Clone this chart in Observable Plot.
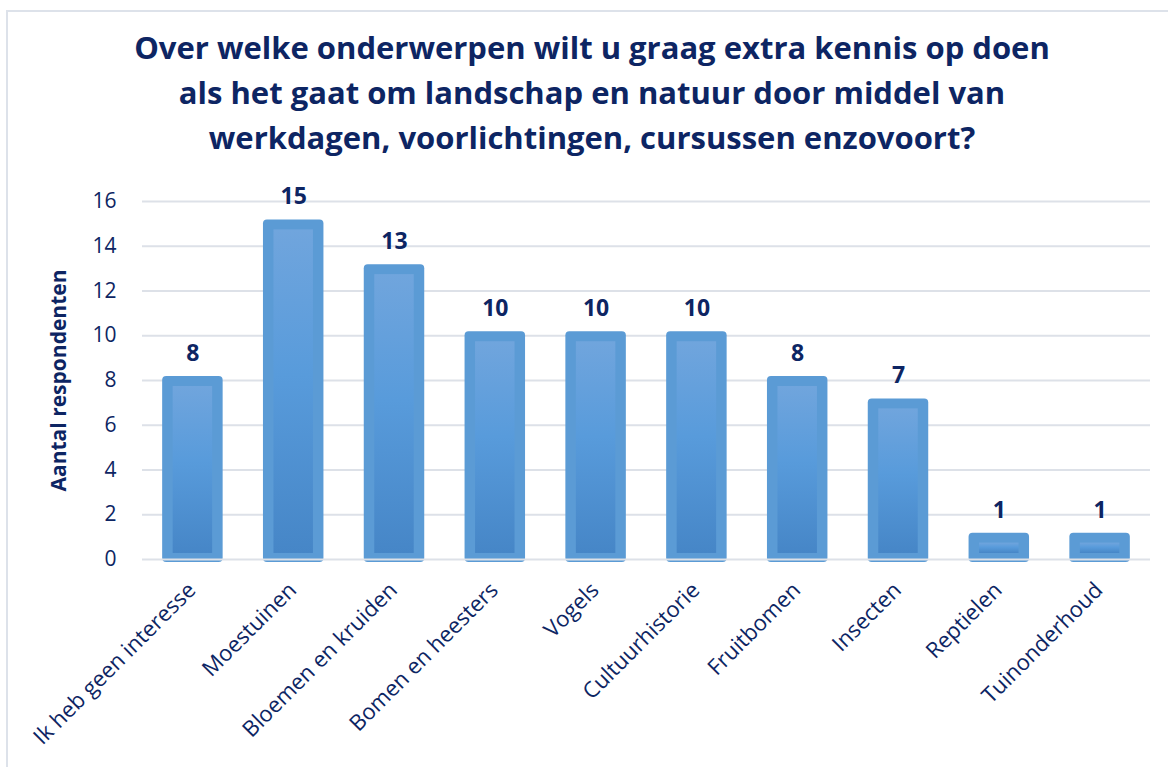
<!DOCTYPE html>
<html><head><meta charset="utf-8">
<script src="https://cdn.jsdelivr.net/npm/d3@7"></script>
<script src="https://cdn.jsdelivr.net/npm/@observablehq/plot@0.6"></script>
<style>
html,body{margin:0;padding:0;background:#fff;overflow:hidden;}
#wrap{position:relative;width:1168px;height:767px;}
#frame{position:absolute;left:6px;top:10px;width:1200px;height:800px;border:2px solid #dde2ea;box-sizing:border-box;}
#title{position:absolute;left:0;top:25px;width:1184px;text-align:center;font-family:"Open Sans",sans-serif;font-weight:700;font-size:31px;line-height:45px;color:#0d2563;}
#chart{position:absolute;left:0;top:0;}
</style></head>
<body>
<div id="wrap">
<div id="frame"></div>
<div id="title">Over welke onderwerpen wilt u graag extra kennis op doen<br>als het gaat om landschap en natuur door middel van<br>werkdagen, voorlichtingen, cursussen enzovoort?</div>
<div id="chart"></div>
</div>
<script>
const categories = ["Ik heb geen interesse","Moestuinen","Bloemen en kruiden","Bomen en heesters","Vogels","Cultuurhistorie","Fruitbomen","Insecten","Reptielen","Tuinonderhoud"];
const values = [8,15,13,10,10,10,8,7,1,1];
const yTicks = [0,2,4,6,8,10,12,14,16];
const yLabel = "Aantal respondenten";

const data = categories.map((c,i)=>({cat:c, value:values[i]}));
const navy = "#0d2563";

const plot = Plot.plot({
  width:1168, height:767,
  marginTop:201, marginBottom:208, marginLeft:142, marginRight:18,
  style:{fontFamily:"'Open Sans', sans-serif", background:"transparent", overflow:"visible"},
  x:{domain:categories, paddingInner:0.4, paddingOuter:0.2, round:false, axis:null},
  y:{domain:[0,16], axis:null},
  marks:[
    Plot.ruleY(yTicks.filter(d=>d>0), {stroke:"#dde1e8", strokeWidth:2}),
    Plot.barY(data, {x:"cat", y:"value", fill:"#5b9bd5", rx:4, insetTop:-4, insetBottom:-3}),
    Plot.barY(data, {x:"cat", y:"value", fill:"url(#bargrad)", insetLeft:10.5, insetRight:10.5, insetTop:6, insetBottom:6}),
    Plot.ruleY([0], {stroke:"#dde1e8", strokeWidth:2}),
    Plot.text(data, {x:"cat", y:"value", text:d=>String(d.value), dy:-27, fontWeight:700, fontSize:23, fill:navy}),
    Plot.text(yTicks, {x:null, y:d=>d, text:d=>String(d), frameAnchor:"left", dx:-26, textAnchor:"end", fontSize:21, fill:navy}),
    Plot.text(categories, {x:d=>d, text:d=>d, frameAnchor:"bottom", dx:4, dy:32, rotate:-45, textAnchor:"end", fontSize:22, fill:navy}),
    Plot.text([yLabel], {text:d=>d, frameAnchor:"left", dx:-83, rotate:-90, textAnchor:"middle", fontWeight:700, fontSize:21, fill:navy})
  ]
});
const svg = d3.select(plot);
const defs = svg.insert("defs", ":first-child");
const g = defs.append("linearGradient").attr("id","bargrad").attr("x1",0).attr("y1",0).attr("x2",0).attr("y2",1);
g.append("stop").attr("offset","0%").attr("stop-color","#70a5dd");
g.append("stop").attr("offset","45%").attr("stop-color","#589bdb");
g.append("stop").attr("offset","100%").attr("stop-color","#4686c7");
document.getElementById("chart").appendChild(plot);
</script>
</body></html>
